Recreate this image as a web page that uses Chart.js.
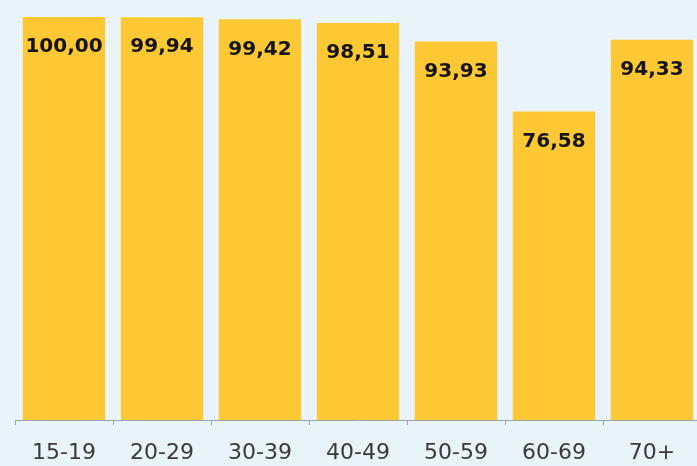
<!DOCTYPE html>
<html>
<head>
<meta charset="utf-8">
<script src="https://cdn.jsdelivr.net/npm/chart.js@4.4.1/dist/chart.umd.min.js"></script>
<style>
  html, body { margin: 0; padding: 0; background: #e8f4fa; overflow: hidden; }
  #wrap { width: 703px; height: 482px; position: relative; }
</style>
</head>
<body>
<div id="wrap"><canvas id="grafik"></canvas></div>
<script>
const kategori = ["15-19", "20-29", "30-39", "40-49", "50-59", "60-69", "70+"];
const nilai = [100.00, 99.94, 99.42, 98.51, 93.93, 76.58, 94.33];
const labelNilai = ["100,00", "99,94", "99,42", "98,51", "93,93", "76,58", "94,33"];

// tulis angka di dalam batang, dekat bagian atas
const labelBatang = {
    id: "labelBatang",
    afterDatasetsDraw(chart) {
        const ctx = chart.ctx;
        const meta = chart.getDatasetMeta(0);
        ctx.save();
        ctx.fillStyle = "#16140f";
        ctx.font = "bold 20px 'DejaVu Sans'";
        ctx.textAlign = "center";
        ctx.textBaseline = "middle";
        meta.data.forEach((bar, i) => {
            ctx.fillText(labelNilai[i], bar.x, bar.y + 30);
        });
        ctx.restore();
    }
};

const ctx = document.getElementById("grafik").getContext("2d");
window.myChart = new Chart(ctx, {
    type: "bar",
    data: {
        labels: kategori,
        datasets: [{
            data: nilai,
            backgroundColor: "#fdc833",
            borderWidth: 0,
            categoryPercentage: 1.0,
            barPercentage: 0.84
        }]
    },
    options: {
        responsive: true,
        maintainAspectRatio: false,
        animation: false,
        layout: { padding: { left: 15, top: 17, right: 2, bottom: 1 } },
        plugins: {
            legend: { display: false },
            tooltip: { enabled: false }
        },
        scales: {
            x: {
                grid: {
                    offset: true,
                    drawOnChartArea: false,
                    tickLength: 5,
                    color: "#9aa6ad"
                },
                border: { color: "#9aa6ad", width: 1 },
                ticks: {
                    color: "#3a3a3a",
                    font: { family: "DejaVu Sans", size: 22, lineHeight: 1 },
                    padding: 17
                }
            },
            y: {
                display: false,
                min: 0,
                max: 100
            }
        }
    },
    plugins: [labelBatang]
});
</script>
</body>
</html>
